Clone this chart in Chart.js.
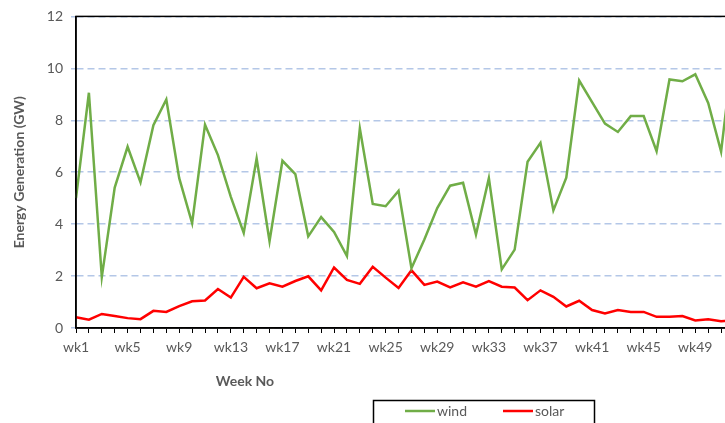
<!DOCTYPE html>
<html lang="en">
<head>
    <meta charset="UTF-8">
    <title>Wind vs Solar Generation</title>
    <script src="https://cdn.jsdelivr.net/npm/chart.js"></script>
    <style>
        html, body { margin: 0; padding: 0; background: #fff; overflow: hidden; }
        #wrap { width: 760px; height: 423px; }
    </style>
</head>
<body>
    <div id="wrap">
        <canvas id="genChart" width="760" height="423"></canvas>
    </div>

    <script>
        // week labels (x axis)
        const weeks = [
            "wk1","wk2","wk3","wk4","wk5","wk6","wk7","wk8","wk9","wk10",
            "wk11","wk12","wk13","wk14","wk15","wk16","wk17","wk18","wk19","wk20",
            "wk21","wk22","wk23","wk24","wk25","wk26","wk27","wk28","wk29","wk30",
            "wk31","wk32","wk33","wk34","wk35","wk36","wk37","wk38","wk39","wk40",
            "wk41","wk42","wk43","wk44","wk45","wk46","wk47","wk48","wk49","wk50",
            "wk51","wk52"
        ];

        // GW
        const wind = [
            5.00, 9.06, 1.96, 5.41, 6.98, 5.61, 7.81, 8.80, 5.77, 4.04,
            7.83, 6.66, 5.05, 3.66, 6.53, 3.34, 6.44, 5.93, 3.53, 4.27,
            3.70, 2.77, 7.68, 4.78, 4.69, 5.28, 2.30, 3.41, 4.62, 5.48,
            5.59, 3.60, 5.77, 2.26, 3.02, 6.40, 7.13, 4.53, 5.79, 9.53,
            8.70, 7.87, 7.55, 8.16, 8.16, 6.81, 9.57, 9.50, 9.77, 8.67,
            6.79, 11.0
        ];
        const solar = [
            0.41, 0.32, 0.54, 0.46, 0.38, 0.34, 0.66, 0.62, 0.84, 1.03,
            1.06, 1.50, 1.17, 1.97, 1.53, 1.72, 1.59, 1.81, 1.99, 1.45,
            2.33, 1.85, 1.70, 2.36, 1.94, 1.54, 2.22, 1.66, 1.79, 1.56,
            1.76, 1.59, 1.81, 1.59, 1.56, 1.07, 1.45, 1.20, 0.83, 1.05,
            0.69, 0.56, 0.69, 0.62, 0.62, 0.43, 0.43, 0.46, 0.29, 0.34,
            0.26, 0.30
        ];

        const FONT = "Lato, 'Liberation Sans', sans-serif";
        const GREY = "#595959";

        // plot frame + x title + boxed legend
        const extras = {
            id: "extras",
            afterDraw(chart) {
                const ctx = chart.ctx;
                const a = chart.chartArea;
                ctx.save();
                ctx.strokeStyle = "#000";
                ctx.lineWidth = 1.5;
                ctx.strokeRect(a.left, a.top, a.right - a.left, a.bottom - a.top);

                ctx.fillStyle = GREY;
                ctx.font = "bold 14px " + FONT;
                ctx.textAlign = "center";
                ctx.textBaseline = "middle";
                ctx.fillText("Week No", 245, 381);

                // legend box
                ctx.strokeStyle = "#000";
                ctx.lineWidth = 1.5;
                ctx.strokeRect(373.5, 400.5, 221, 40);
                ctx.font = "14px " + FONT;
                ctx.textAlign = "left";
                const items = [
                    { ds: chart.data.datasets[0], x: 405 },
                    { ds: chart.data.datasets[1], x: 503 }
                ];
                items.forEach(it => {
                    ctx.strokeStyle = it.ds.borderColor;
                    ctx.lineWidth = 2.5;
                    ctx.beginPath();
                    ctx.moveTo(it.x, 411);
                    ctx.lineTo(it.x + 30, 411);
                    ctx.stroke();
                    ctx.fillStyle = GREY;
                    ctx.fillText(it.ds.label, it.x + 32, 411);
                });
                ctx.restore();
            }
        };

        new Chart(document.getElementById("genChart"), {
            type: "line",
            data: {
                labels: weeks,
                datasets: [
                    {
                        label: "wind",
                        data: wind,
                        borderColor: "#70ad47",
                        borderWidth: 2.5,
                        pointRadius: 0,
                        tension: 0,
                        fill: false
                    },
                    {
                        label: "solar",
                        data: solar,
                        borderColor: "#ff0000",
                        borderWidth: 2.5,
                        pointRadius: 0,
                        tension: 0,
                        fill: false
                    }
                ]
            },
            options: {
                responsive: false,
                animation: false,
                layout: { padding: { top: 14, right: 26, left: 0, bottom: 0 } },
                plugins: {
                    legend: { display: false },
                    tooltip: { enabled: false }
                },
                scales: {
                    x: {
                        offset: false,
                        afterFit(scale) { scale.height = 95; },
                        border: { color: "#000", width: 1.5 },
                        grid: {
                            drawOnChartArea: false,
                            drawTicks: true,
                            tickLength: 5,
                            color: "#000",
                            lineWidth: 1
                        },
                        ticks: {
                            autoSkip: false,
                            maxRotation: 0,
                            padding: 6,
                            color: GREY,
                            font: { family: FONT, size: 14 },
                            callback: function (val, i) {
                                return i % 4 === 0 ? weeks[i] : "";
                            }
                        }
                    },
                    y: {
                        min: 0,
                        max: 12,
                        afterFit(scale) { scale.width = 76; },
                        // dash here applies to the horizontal grid lines
                        border: { color: "#000", width: 1.5, dash: [7, 4] },
                        grid: {
                            color: "#b4c7e7",
                            lineWidth: 1.5,
                            tickLength: 5,
                            drawTicks: true
                        },
                        ticks: {
                            stepSize: 2,
                            padding: 8,
                            color: GREY,
                            font: { family: FONT, size: 14 }
                        },
                        title: {
                            display: true,
                            text: "Energy Generation (GW)",
                            color: GREY,
                            font: { family: FONT, size: 14, weight: "bold" },
                            padding: { top: 11, bottom: 0 }
                        }
                    }
                }
            },
            plugins: [extras]
        });
    </script>
</body>
</html>
